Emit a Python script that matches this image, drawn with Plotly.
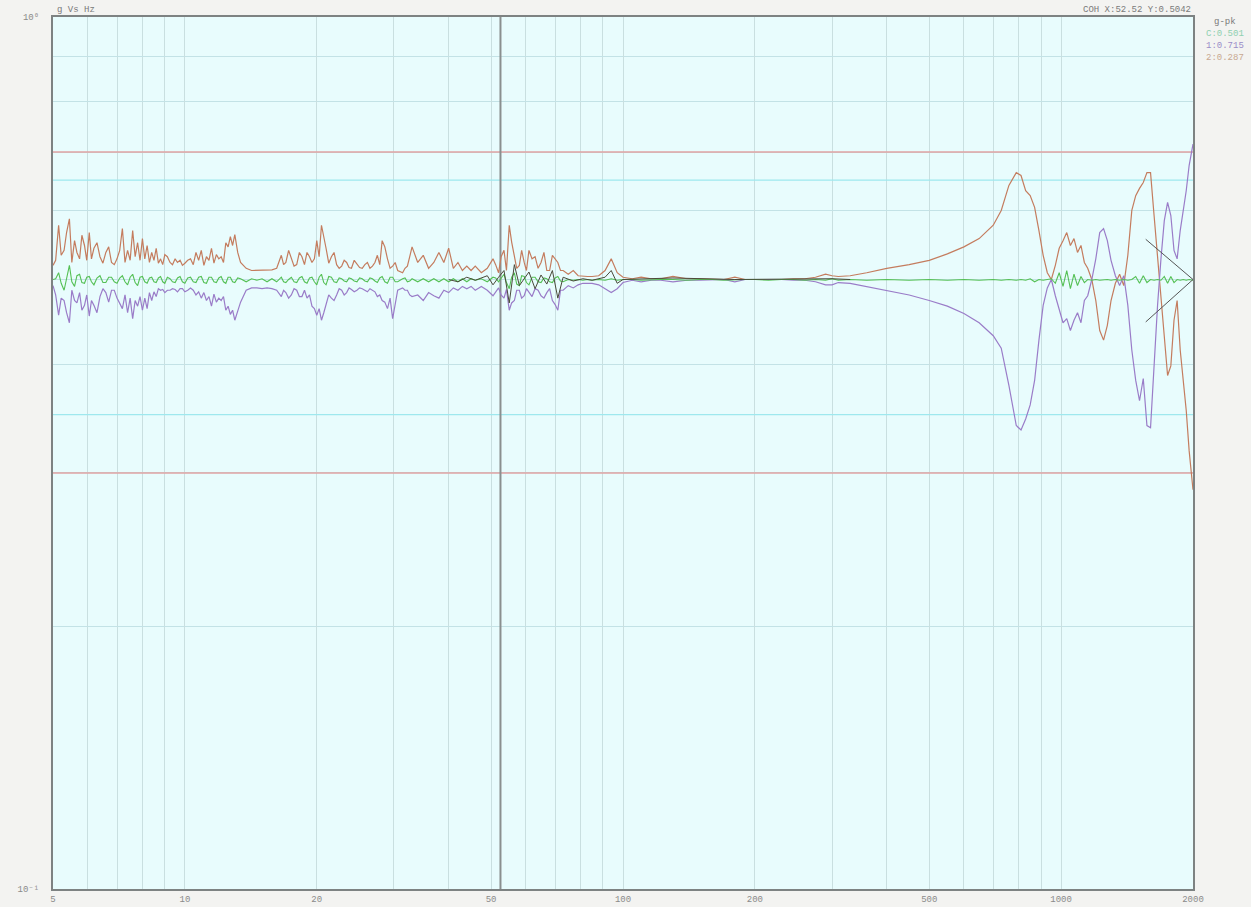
import plotly.graph_objects as go

# Frequency lines (Hz)
FREQ_HZ = [
    5.0, 5.15, 5.3, 5.45, 5.6, 5.75, 5.9, 6.05, 6.2, 6.4, 6.6, 6.8, 7.0, 7.2, 7.4, 7.6, 7.8, 8.0,
    8.2, 8.4, 8.6, 8.8, 9.0, 9.25, 9.5, 9.75, 10, 10.3, 10.6, 10.9, 11.2, 11.5, 11.8, 12.1, 12.4,
    12.7, 13.0, 13.4, 13.8, 14.2, 14.6, 15.0, 15.4, 15.8, 16.2, 16.6, 17.0, 17.5, 18.0, 18.5, 19.0,
    19.5, 20, 20.5, 21, 21.6, 22.2, 22.8, 23.4, 24, 24.7, 25.4, 26.1, 26.8, 27.5, 28.2, 29, 29.8,
    30.6, 31.4, 32.2, 33, 34, 35, 36, 37, 38, 39, 40, 41, 42, 43, 44, 45, 46, 47.5, 49, 50.5, 52,
    53.5, 55, 56.5, 58, 59.5, 61, 63, 65, 67, 69, 71, 73, 75, 77, 79, 81, 83, 85, 88, 91, 94, 97,
    100, 105, 110, 116, 122, 130, 140, 150, 160, 170, 180, 190, 200, 215, 230, 245, 260, 275, 290,
    300, 310, 330, 360, 400, 450, 500, 550, 600, 650, 700, 730, 760, 790, 810, 830, 850, 870, 890,
    910, 930, 950, 970, 990, 1010, 1030, 1050, 1070, 1090, 1110, 1130, 1150, 1175, 1200, 1225,
    1250, 1275, 1300, 1330, 1360, 1390, 1420, 1450, 1480, 1510, 1540, 1570, 1600, 1630, 1660,
    1690, 1720, 1750, 1780, 1810, 1840, 1870, 1900, 1930, 1960, 2000,
]

# Control channel (g-pk)
CTRL_G = [
    0.500, 0.509, 0.486, 0.519, 0.491, 0.507, 0.495, 0.504, 0.493, 0.505, 0.496, 0.503, 0.495,
    0.505, 0.493, 0.507, 0.492, 0.504, 0.495, 0.503, 0.496, 0.504, 0.495, 0.501, 0.496, 0.504,
    0.495, 0.503, 0.496, 0.504, 0.495, 0.503, 0.496, 0.504, 0.495, 0.503, 0.496, 0.501, 0.497,
    0.501, 0.499, 0.501, 0.497, 0.501, 0.497, 0.503, 0.496, 0.503, 0.496, 0.504, 0.495, 0.503,
    0.493, 0.507, 0.493, 0.503, 0.496, 0.501, 0.497, 0.501, 0.497, 0.501, 0.497, 0.501, 0.496,
    0.504, 0.495, 0.503, 0.497, 0.501, 0.497, 0.501, 0.497, 0.501, 0.497, 0.501, 0.497, 0.501,
    0.497, 0.501, 0.497, 0.501, 0.497, 0.501, 0.499, 0.501, 0.497, 0.503, 0.497, 0.507, 0.488,
    0.509, 0.492, 0.504, 0.493, 0.503, 0.496, 0.501, 0.496, 0.504, 0.497, 0.500, 0.499, 0.500,
    0.499, 0.500, 0.499, 0.500, 0.499, 0.501, 0.499, 0.500,
    0.500, 0.499, 0.500, 0.500, 0.500, 0.499, 0.500, 0.500, 0.499, 0.500, 0.500, 0.500, 0.499,
    0.500, 0.500, 0.499, 0.500, 0.499, 0.501, 0.499, 0.500, 0.499, 0.500, 0.499, 0.500, 0.499,
    0.500, 0.499, 0.500, 0.499, 0.500, 0.499, 0.500, 0.499, 0.501, 0.497, 0.500, 0.499, 0.500,
    0.501, 0.495, 0.509, 0.491, 0.512, 0.488, 0.507, 0.492, 0.504, 0.496, 0.500, 0.499, 0.500,
    0.499, 0.500, 0.500, 0.499, 0.500, 0.499, 0.500, 0.499, 0.500, 0.504, 0.495, 0.505, 0.496,
    0.500, 0.499, 0.500, 0.499, 0.504, 0.495, 0.504, 0.496, 0.500, 0.499, 0.500, 0.499, 0.500,
    0.499, 0.501,
]

# Measurement channel 1 (g-pk)
CH1_G = [
    0.492, 0.455, 0.473, 0.446, 0.473, 0.483, 0.467, 0.454, 0.467, 0.478, 0.483, 0.486, 0.476,
    0.463, 0.458, 0.451, 0.466, 0.461, 0.463, 0.473, 0.478, 0.486, 0.483, 0.486, 0.487, 0.488,
    0.484, 0.489, 0.480, 0.476, 0.473, 0.466, 0.471, 0.473, 0.461, 0.456, 0.449, 0.471, 0.486,
    0.489, 0.489, 0.488, 0.489, 0.488, 0.486, 0.478, 0.483, 0.480, 0.486, 0.478, 0.476, 0.466,
    0.455, 0.449, 0.467, 0.476, 0.480, 0.486, 0.483, 0.487, 0.486, 0.488, 0.484, 0.486, 0.478,
    0.473, 0.463, 0.451, 0.486, 0.489, 0.486, 0.478, 0.480, 0.473, 0.483, 0.479, 0.476, 0.486,
    0.483, 0.489, 0.486, 0.491, 0.488, 0.491, 0.486, 0.491, 0.486, 0.479, 0.489, 0.476, 0.461,
    0.473, 0.486, 0.479, 0.483, 0.488, 0.479, 0.483, 0.473, 0.461, 0.486, 0.492, 0.489, 0.493,
    0.495, 0.495, 0.495, 0.493, 0.488, 0.483, 0.488, 0.496,
    0.499, 0.497, 0.499, 0.499, 0.497, 0.499, 0.499, 0.500, 0.500, 0.497, 0.500, 0.500, 0.500,
    0.500, 0.499, 0.499, 0.497, 0.493, 0.493, 0.496, 0.495, 0.491, 0.486, 0.480, 0.473, 0.466,
    0.457, 0.446, 0.431, 0.417, 0.378, 0.340, 0.336, 0.346, 0.359, 0.383, 0.426, 0.467, 0.489,
    0.500, 0.479, 0.461, 0.446, 0.451, 0.437, 0.449, 0.458, 0.446, 0.473, 0.479, 0.500, 0.528,
    0.566, 0.572, 0.554, 0.526, 0.505, 0.492, 0.505, 0.467, 0.415, 0.383, 0.363, 0.385, 0.340,
    0.338, 0.404, 0.467, 0.528, 0.584, 0.613, 0.592, 0.540, 0.528, 0.569, 0.600, 0.632, 0.676,
    0.715,
]

# Measurement channel 2 (g-pk)
CH2_G = [
    0.519, 0.577, 0.540, 0.587, 0.554, 0.528, 0.547, 0.566, 0.543, 0.531, 0.537, 0.523, 0.528,
    0.572, 0.540, 0.569, 0.551, 0.557, 0.547, 0.537, 0.543, 0.528, 0.534, 0.523, 0.528, 0.526,
    0.522, 0.528, 0.537, 0.540, 0.531, 0.543, 0.534, 0.531, 0.551, 0.560, 0.563, 0.523, 0.515,
    0.512, 0.512, 0.512, 0.512, 0.513, 0.515, 0.533, 0.523, 0.528, 0.520, 0.531, 0.537, 0.523,
    0.554, 0.577, 0.543, 0.531, 0.520, 0.518, 0.523, 0.515, 0.520, 0.515, 0.523, 0.518, 0.533,
    0.554, 0.528, 0.518, 0.512, 0.509, 0.518, 0.545, 0.523, 0.533, 0.515, 0.523, 0.537, 0.523,
    0.543, 0.515, 0.523, 0.512, 0.518, 0.512, 0.518, 0.509, 0.515, 0.528, 0.509, 0.540, 0.577,
    0.533, 0.519, 0.523, 0.540, 0.531, 0.523, 0.512, 0.533, 0.523, 0.512, 0.507, 0.512, 0.505,
    0.504, 0.504, 0.504, 0.505, 0.512, 0.528, 0.509, 0.503,
    0.501, 0.503, 0.501, 0.501, 0.504, 0.501, 0.501, 0.500, 0.500, 0.503, 0.500, 0.500, 0.500,
    0.500, 0.501, 0.501, 0.503, 0.507, 0.505, 0.504, 0.505, 0.509, 0.515, 0.520, 0.526, 0.535,
    0.545, 0.557, 0.577, 0.600, 0.641, 0.663, 0.658, 0.632, 0.624, 0.605, 0.569, 0.533, 0.509,
    0.500, 0.519, 0.543, 0.554, 0.566, 0.547, 0.557, 0.537, 0.547, 0.523, 0.515, 0.500, 0.473,
    0.437, 0.426, 0.443, 0.473, 0.495, 0.507, 0.492, 0.533, 0.600, 0.624, 0.636, 0.646, 0.663,
    0.663, 0.592, 0.533, 0.473, 0.426, 0.388, 0.398, 0.449, 0.473, 0.415, 0.383, 0.354, 0.318,
    0.287,
]

# Extra lines in the noisy low-frequency bands (Hz) with their readings
FINE_HZ = [
    5.07, 5.22, 5.37, 5.52, 5.67, 5.82, 5.97, 6.12, 6.3, 6.5, 6.7, 6.9, 7.1, 7.3, 7.5, 7.7, 7.9,
    8.1, 8.3, 8.5, 8.7, 8.9, 9.12, 9.37, 9.62, 9.87, 10.15, 10.45, 10.75, 11.05, 11.35, 11.65,
    11.95, 12.25, 12.55, 12.85, 13.2,
    16.8, 17.25, 17.75, 18.25, 18.75, 19.25, 19.75, 20.25, 20.75, 21.3, 21.9, 22.5, 23.1, 23.7,
    24.35, 25.05, 25.75, 26.45, 27.15, 27.85, 28.6, 29.4, 30.2, 31.8, 32.6,
    51.2, 52.7, 54.2, 55.7, 57.2, 58.7, 60.2, 62, 64, 66, 68, 70, 72,
]
FINE_CTRL_G = [
    0.495, 0.503, 0.497, 0.505, 0.496, 0.503, 0.497, 0.502, 0.496, 0.503, 0.497, 0.502, 0.497,
    0.503, 0.496, 0.503, 0.497, 0.502, 0.497, 0.502, 0.497, 0.503, 0.497, 0.502, 0.497, 0.502,
    0.497, 0.503, 0.496, 0.503, 0.497, 0.502, 0.497, 0.503, 0.497, 0.502, 0.497,
    0.500, 0.497, 0.502, 0.497, 0.502, 0.497, 0.503, 0.496, 0.504, 0.497, 0.502, 0.498, 0.502,
    0.498, 0.502, 0.498, 0.502, 0.498, 0.502, 0.497, 0.503, 0.497, 0.502, 0.498, 0.502,
    0.502, 0.496, 0.503, 0.494, 0.505, 0.496, 0.503, 0.497, 0.502, 0.497, 0.502, 0.498, 0.502,
]
FINE_CH1_G = [
    0.480, 0.476, 0.458, 0.486, 0.470, 0.461, 0.480, 0.473, 0.458, 0.488, 0.471, 0.486, 0.470,
    0.480, 0.476, 0.473, 0.478, 0.476, 0.483, 0.484, 0.488, 0.487, 0.486, 0.488, 0.484, 0.488,
    0.486, 0.486, 0.484, 0.483, 0.478, 0.481, 0.476, 0.478, 0.466, 0.461, 0.460,
    0.486, 0.476, 0.488, 0.478, 0.486, 0.480, 0.463, 0.463, 0.458, 0.480, 0.473, 0.488, 0.480,
    0.489, 0.484, 0.489, 0.486, 0.488, 0.484, 0.480, 0.471, 0.476, 0.466, 0.486, 0.480,
    0.484, 0.480, 0.487, 0.470, 0.486, 0.476, 0.488, 0.478, 0.486, 0.476, 0.488, 0.468, 0.486,
]
FINE_CH2_G = [
    0.526, 0.533, 0.566, 0.523, 0.537, 0.562, 0.526, 0.528, 0.551, 0.522, 0.545, 0.520, 0.540,
    0.523, 0.526, 0.531, 0.526, 0.528, 0.523, 0.526, 0.522, 0.520, 0.531, 0.520, 0.523, 0.519,
    0.526, 0.520, 0.526, 0.519, 0.526, 0.522, 0.528, 0.523, 0.545, 0.547, 0.537,
    0.520, 0.540, 0.518, 0.537, 0.520, 0.531, 0.528, 0.531, 0.562, 0.522, 0.537, 0.515, 0.526,
    0.516, 0.526, 0.516, 0.520, 0.515, 0.523, 0.520, 0.545, 0.515, 0.523, 0.515, 0.531,
    0.520, 0.531, 0.512, 0.552, 0.515, 0.540, 0.512, 0.528, 0.515, 0.537, 0.512, 0.528, 0.512,
]

# Drive reference around the cursor region
REF_HZ = [40, 42, 44, 46, 49, 50.5, 52, 53.5, 55, 56.5, 58, 61, 63, 65, 67, 69, 71, 73, 77, 81,
          85, 91, 94, 97, 100, 130, 180, 300, 330]
REF_G = [0.500, 0.497, 0.503, 0.499, 0.505, 0.493, 0.503, 0.512, 0.470, 0.520, 0.492, 0.510,
         0.488, 0.506, 0.494, 0.512, 0.476, 0.503, 0.498, 0.501, 0.499, 0.503, 0.512, 0.495,
         0.500, 0.502, 0.500, 0.501, 0.500]

# Upper/lower tolerance wedge at the top of the band
WEDGE_HZ = [1560, 2000]
WEDGE_HI_G = [0.556, 0.500]
WEDGE_LO_G = [0.447, 0.500]

ABORT_G = [0.7, 0.3]
ALARM_G = [0.65, 0.35]
CURSOR_HZ = 52.52
F_MIN, F_MAX = 5, 2000
G_MIN, G_MAX = 0.1, 1.0

X_TICKS = [5, 10, 20, 50, 100, 200, 500, 1000, 2000]
X_LABELS = ["5", "10", "20", "50", "100", "200", "500", "1000", "2000"]
X_GRID = [6, 7, 8, 9, 30, 40, 60, 70, 80, 90, 300, 400, 600, 700, 800, 900]
Y_TICKS = [0.1, 1.0]
Y_LABELS = ["10\u207b\u00b9", "10\u2070"]
Y_GRID = [0.2, 0.3, 0.4, 0.5, 0.6, 0.7, 0.8, 0.9]

ORANGE = "#c47c5e"
PURPLE = "#9a7cc8"
GREEN = "#55c055"
DARK = "#4a4a3a"


def merged(base_x, base_y, fine_x, fine_y):
    pts = sorted(zip(list(base_x) + list(fine_x), list(base_y) + list(fine_y)))
    return [p[0] for p in pts], [p[1] for p in pts]


fig = go.Figure()

for lvl in ALARM_G:
    fig.add_trace(go.Scatter(x=[F_MIN, F_MAX], y=[lvl, lvl], mode="lines",
                             line=dict(color="#9ee8ee", width=1.2), hoverinfo="skip"))
for lvl in ABORT_G:
    fig.add_trace(go.Scatter(x=[F_MIN, F_MAX], y=[lvl, lvl], mode="lines",
                             line=dict(color="#e0a3a3", width=1.6), hoverinfo="skip"))

fig.add_trace(go.Scatter(x=[CURSOR_HZ, CURSOR_HZ], y=[G_MIN, G_MAX], mode="lines",
                         line=dict(color="#8a8f8f", width=2), hoverinfo="skip"))

x2, y2 = merged(FREQ_HZ, CH2_G, FINE_HZ, FINE_CH2_G)
x1, y1 = merged(FREQ_HZ, CH1_G, FINE_HZ, FINE_CH1_G)
xc, yc = merged(FREQ_HZ, CTRL_G, FINE_HZ, FINE_CTRL_G)
fig.add_trace(go.Scatter(x=x2, y=y2, mode="lines", line=dict(color=ORANGE, width=1.2)))
fig.add_trace(go.Scatter(x=x1, y=y1, mode="lines", line=dict(color=PURPLE, width=1.2)))
fig.add_trace(go.Scatter(x=xc, y=yc, mode="lines", line=dict(color=GREEN, width=1.1)))
fig.add_trace(go.Scatter(x=REF_HZ, y=REF_G, mode="lines", line=dict(color=DARK, width=1)))
fig.add_trace(go.Scatter(x=WEDGE_HZ, y=WEDGE_HI_G, mode="lines", line=dict(color="#555", width=1)))
fig.add_trace(go.Scatter(x=WEDGE_HZ, y=WEDGE_LO_G, mode="lines", line=dict(color="#555", width=1)))

tick_font = dict(family="Liberation Mono, DejaVu Sans Mono, monospace", size=9, color="#8a8a8a")

fig.update_xaxes(
    type="log", range=[0.69897, 3.30103], tickvals=X_TICKS, ticktext=X_LABELS,
    showgrid=True, gridcolor="#c9dfe0", gridwidth=1, zeroline=False,
    minor=dict(tickvals=X_GRID, showgrid=True, gridcolor="#c9dfe0", gridwidth=1, ticks=""),
    showline=True, linecolor="#7d8282", linewidth=2, mirror=True,
    ticks="", tickfont=tick_font, automargin=False,
)
fig.update_yaxes(
    type="log", range=[-1, 0], tickvals=Y_TICKS, ticktext=Y_LABELS,
    showgrid=True, gridcolor="#c3e2e6", gridwidth=1, zeroline=False,
    minor=dict(tickvals=Y_GRID, showgrid=True, gridcolor="#c3e2e6", gridwidth=1, ticks=""),
    showline=True, linecolor="#7d8282", linewidth=2, mirror=True,
    ticks="", tickfont=tick_font, automargin=False, ticklabelstandoff=10,
)

txt = dict(family="Liberation Mono, DejaVu Sans Mono, monospace", size=9)
fig.add_annotation(text="g Vs Hz", xref="paper", yref="paper", x=0.002, y=1.0,
                   xanchor="left", yanchor="bottom", showarrow=False,
                   font=dict(**txt, color="#7a7a7a"))
fig.add_annotation(text="COH X:52.52 Y:0.5042", xref="paper", yref="paper", x=1.0, y=1.0,
                   xanchor="right", yanchor="bottom", showarrow=False,
                   font=dict(**txt, color="#7a7a7a"))
legend_rows = [("g-pk", "#7a7a7a"), ("C:0.501", "#8fd0b0"), ("1:0.715", "#9a8cc8"),
               ("2:0.287", "#c8a890")]
for i, (label, col) in enumerate(legend_rows):
    fig.add_annotation(text=label, xref="paper", yref="paper", x=1.0285, y=0.994 - i * 0.0135,
                       xanchor="center", yanchor="middle", showarrow=False,
                       font=dict(**txt, color=col))

fig.update_layout(
    width=1251, height=907, showlegend=False,
    margin=dict(l=53, r=58, t=17, b=18, autoexpand=False),
    paper_bgcolor="#f3f3f1", plot_bgcolor="#e8fcfd",
)

fig.write_html("out.html")
